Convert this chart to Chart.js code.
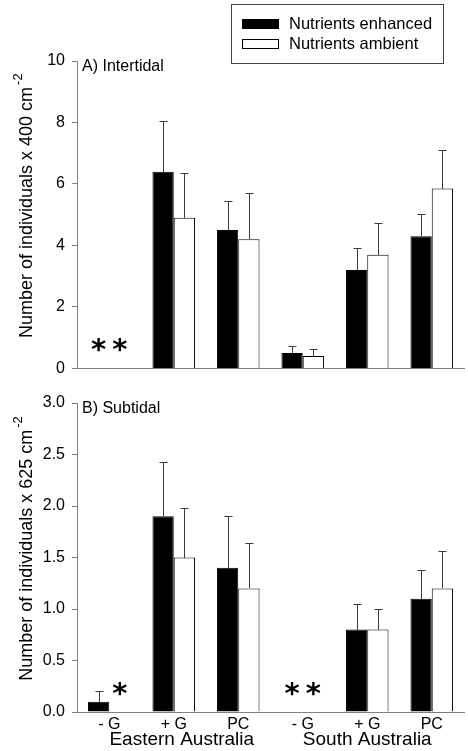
<!DOCTYPE html>
<html>
<head>
<meta charset="utf-8">
<script src="https://cdn.jsdelivr.net/npm/chart.js@4"></script>
<style>
  body { margin: 0; background: #fff; }
  #wrap { position: relative; width: 468px; height: 751px; }
  canvas { position: absolute; left: 0; }
  #chart-a { top: 0; }
  #chart-b { top: 385px; }
</style>
</head>
<body>
<div id="wrap">
  <canvas id="chart-a" width="468" height="385"></canvas>
  <canvas id="chart-b" width="468" height="366"></canvas>
</div>
<script>
const categories = ['- G', '+ G', 'PC', '- G', '+ G', 'PC'];
const regions = ['Eastern Australia', 'South Australia'];
const seriesNames = ['Nutrients enhanced', 'Nutrients ambient'];

// A) Intertidal, per 400 cm-2 (null = none found, marked with *)
const intertidalEnhanced = [null, 6.4, 4.5, 0.5, 3.2, 4.3];
const intertidalEnhancedSE = [0, 1.65, 0.95, 0.22, 0.73, 0.73];
const intertidalAmbient = [null, 4.9, 4.2, 0.4, 3.7, 5.85];
const intertidalAmbientSE = [0, 1.47, 1.5, 0.22, 1.03, 1.27];

// B) Subtidal, per 625 cm-2
const subtidalEnhanced = [0.1, 1.9, 1.4, null, 0.8, 1.1];
const subtidalEnhancedSE = [0.1, 0.53, 0.5, 0, 0.25, 0.28];
const subtidalAmbient = [null, 1.5, 1.2, null, 0.8, 1.2];
const subtidalAmbientSE = [0, 0.48, 0.44, 0, 0.2, 0.36];

const FONT = 'Liberation Sans, Arial, sans-serif';
const AXIS_GREY = '#808080';


/* error bars and asterisks */

const extras = {
    id: 'extras',
    afterDatasetsDraw(chart, args, opts) {
        const ctx = chart.ctx;
        const y = chart.scales.y;
        ctx.save();
        chart.data.datasets.forEach((ds, d) => {
            const meta = chart.getDatasetMeta(d);
            ds.data.forEach((v, i) => {
                const el = meta.data[i];
                if (v === null) {
                    ctx.font = 'bold 29px DejaVu Sans';
                    ctx.fillStyle = '#000';
                    ctx.textAlign = 'center';
                    ctx.textBaseline = 'alphabetic';
                    const m = ctx.measureText('*');
                    const cy = chart.chartArea.bottom - 23;
                    ctx.fillText('*', el.x, cy + (m.actualBoundingBoxAscent - m.actualBoundingBoxDescent) / 2);
                    return;
                }
                const se = ds.se[i];
                if (!se) return;
                const y0 = Math.round(y.getPixelForValue(v));
                const y1 = Math.round(y.getPixelForValue(v + se)) + 0.5;
                const x = Math.round(el.x) + 0.5;
                ctx.strokeStyle = '#3a3a3a';
                ctx.lineWidth = 1;
                ctx.beginPath();
                ctx.moveTo(x, y0);
                ctx.lineTo(x, y1);
                ctx.moveTo(x - 4, y1);
                ctx.lineTo(x + 4, y1);
                ctx.stroke();
            });
        });
        ctx.restore();
    },
    afterDraw(chart, args, opts) {
        const ctx = chart.ctx;
        const area = chart.chartArea;
        ctx.save();
        ctx.fillStyle = '#000';

        // panel label
        ctx.font = '16px ' + FONT;
        ctx.textAlign = 'left';
        ctx.textBaseline = 'middle';
        ctx.fillText(opts.panel, 82, area.top + 6);

        // y title with superscript
        ctx.translate(32, (area.top + area.bottom) / 2);
        ctx.rotate(-Math.PI / 2);
        ctx.textBaseline = 'alphabetic';
        ctx.font = '18px ' + FONT;
        const w = ctx.measureText(opts.yTitle).width;
        ctx.font = '13px ' + FONT;
        const ws = ctx.measureText('-2').width;
        const start = -(w + ws) / 2 + 8;
        ctx.font = '18px ' + FONT;
        ctx.fillText(opts.yTitle, start, 0);
        ctx.font = '13px ' + FONT;
        ctx.fillText('-2', start + w + 2, -10);
        ctx.restore();

        if (opts.legend) {
            ctx.save();
            ctx.strokeStyle = '#444';
            ctx.lineWidth = 1;
            ctx.strokeRect(231.5, 4.5, 212, 59);
            ctx.fillStyle = '#000';
            ctx.fillRect(242, 19, 37, 10);
            ctx.strokeStyle = '#000';
            ctx.strokeRect(242.5, 39.5, 36, 9);
            ctx.font = '16.5px ' + FONT;
            ctx.textAlign = 'left';
            ctx.textBaseline = 'middle';
            ctx.fillText(seriesNames[0], 289, 24);
            ctx.fillText(seriesNames[1], 289, 44);
            ctx.restore();
        }

        if (opts.regions) {
            const x = chart.scales.x;
            ctx.save();
            ctx.font = '19px ' + FONT;
            ctx.fillStyle = '#000';
            ctx.textAlign = 'center';
            ctx.textBaseline = 'middle';
            regions.forEach((r, g) => {
                const cx = (x.getPixelForValue(g * 3) + x.getPixelForValue(g * 3 + 2)) / 2;
                ctx.fillText(r, cx + (g === 0 ? 8 : 0), area.bottom + 28);
            });
            ctx.restore();
        }
    }
};


function makeChart(id, enh, enhSE, amb, ambSE, cfg) {
    return new Chart(document.getElementById(id), {
        type: 'bar',
        data: {
            labels: categories,
            datasets: [{
                label: seriesNames[0],
                data: enh,
                se: enhSE,
                backgroundColor: '#000',
                borderColor: '#000',
                borderWidth: 1
            }, {
                label: seriesNames[1],
                data: amb,
                se: ambSE,
                backgroundColor: '#fff',
                borderColor: '#000',
                borderWidth: 1
            }]
        },
        options: {
            responsive: false,
            animation: false,
            events: [],
            layout: { padding: cfg.padding },
            categoryPercentage: 0.66,
            barPercentage: 1.0,
            plugins: {
                legend: { display: false },
                tooltip: { enabled: false },
                extras: cfg.extras
            },
            scales: {
                x: {
                    grid: { display: false, drawTicks: false },
                    border: { color: AXIS_GREY, width: 1 },
                    ticks: {
                        display: cfg.showX,
                        color: '#000',
                        padding: 3,
                        font: { family: FONT, size: 16 }
                    },
                    afterFit: s => { s.height = cfg.xHeight; }
                },
                y: {
                    min: 0,
                    max: cfg.max,
                    grid: { drawOnChartArea: false, tickLength: 5, color: AXIS_GREY },
                    border: { color: AXIS_GREY, width: 1 },
                    ticks: {
                        stepSize: cfg.step,
                        color: '#000',
                        padding: 7,
                        font: { family: FONT, size: 16 },
                        callback: v => cfg.decimals ? v.toFixed(1) : v
                    },
                    afterFit: s => { s.width = 77; }
                }
            }
        },
        plugins: [extras]
    });
}


/* A) intertidal */

makeChart('chart-a', intertidalEnhanced, intertidalEnhancedSE, intertidalAmbient, intertidalAmbientSE, {
    padding: { top: 61, right: 4, bottom: 16, left: 0 },
    max: 10, step: 2, decimals: false,
    showX: false, xHeight: 0,
    extras: { panel: 'A) Intertidal', yTitle: 'Number of individuals x 400 cm', legend: true }
});


/* B) subtidal */

makeChart('chart-b', subtidalEnhanced, subtidalEnhancedSE, subtidalAmbient, subtidalAmbientSE, {
    padding: { top: 18, right: 4, bottom: 16, left: 0 },
    max: 3, step: 0.5, decimals: true,
    showX: true, xHeight: 23,
    extras: { panel: 'B) Subtidal', yTitle: 'Number of individuals x 625 cm', regions: true }
});
</script>
</body>
</html>
